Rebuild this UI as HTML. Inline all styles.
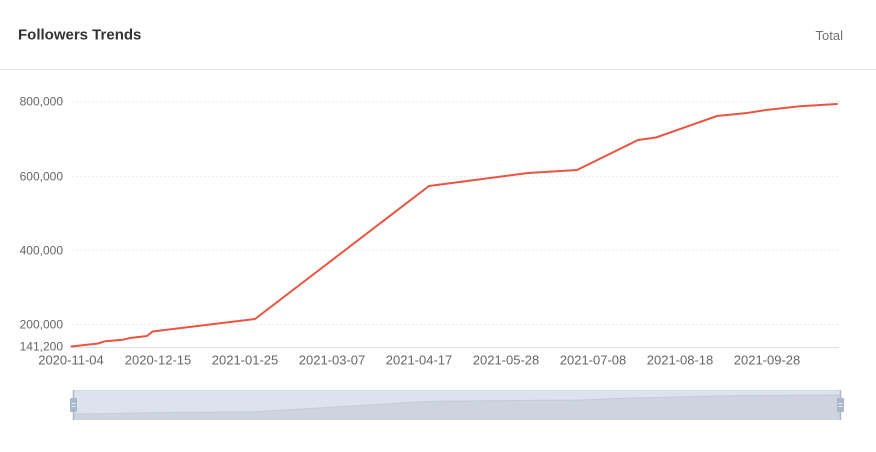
<!DOCTYPE html>
<html>
<head>
<meta charset="utf-8">
<style>
  html,body{margin:0;padding:0;background:#fff;}
  body{width:876px;height:452px;overflow:hidden;position:relative;font-family:"Liberation Sans",Arial,sans-serif;}
  svg{position:absolute;left:0;top:0;}
</style>
</head>
<body>
<svg width="876" height="452" viewBox="0 0 876 452" xmlns="http://www.w3.org/2000/svg">
  <!-- header -->
  <text x="18" y="39.5" font-family="Liberation Sans, Arial, sans-serif" font-size="15" font-weight="bold" fill="#333">Followers Trends</text>
  <text x="843" y="40" text-anchor="end" font-family="Liberation Sans, Arial, sans-serif" font-size="13" fill="#707070">Total</text>
  <line x1="0" y1="69.5" x2="876" y2="69.5" stroke="#e6e6e6" stroke-width="1"/>

  <!-- grid -->
  <g stroke="#ececec" stroke-width="1" stroke-dasharray="2,2">
    <line x1="72" y1="101.5" x2="838" y2="101.5"/>
    <line x1="72" y1="176.5" x2="838" y2="176.5"/>
    <line x1="72" y1="250.5" x2="838" y2="250.5"/>
    <line x1="72" y1="324.5" x2="838" y2="324.5"/>
  </g>
  <line x1="71" y1="347.5" x2="839" y2="347.5" stroke="#e0e0e0" stroke-width="1"/>

  <!-- y labels -->
  <g font-family="Liberation Sans, Arial, sans-serif" font-size="12" fill="#666" text-anchor="end">
    <text x="63" y="105.5">800,000</text>
    <text x="63" y="180.5">600,000</text>
    <text x="63" y="254.5">400,000</text>
    <text x="63" y="328.5">200,000</text>
    <text x="63" y="350.5">141,200</text>
  </g>

  <!-- x labels -->
  <g font-family="Liberation Sans, Arial, sans-serif" font-size="13" fill="#666" text-anchor="middle">
    <text x="71" y="364.5">2020-11-04</text>
    <text x="158" y="364.5">2020-12-15</text>
    <text x="245" y="364.5">2021-01-25</text>
    <text x="332" y="364.5">2021-03-07</text>
    <text x="419" y="364.5">2021-04-17</text>
    <text x="506" y="364.5">2021-05-28</text>
    <text x="593" y="364.5">2021-07-08</text>
    <text x="680" y="364.5">2021-08-18</text>
    <text x="767" y="364.5">2021-09-28</text>
  </g>

  <!-- series -->
  <polyline fill="none" stroke="#ea5440" stroke-width="2" stroke-linejoin="round" stroke-linecap="round"
    points="71.5,346.5 98,343.5 105,341.3 123,339.7 130,338 147,336 152.5,331.5 255,319 429,186 528,173 577,170 638,140 656,137.5 717,116 747,113 766,110 800,106.3 837,104"/>

  <!-- data zoom slider -->
  <rect x="73" y="390" width="767" height="30" fill="#dde3ec"/>
  <polygon fill="#cdd4de" points="73,414 98,413.8 152.5,412.8 255,411.8 429,401.4 528,400.4 577,400.1 638,397.8 656,397.6 717,395.9 766,395.5 840,395 840,420 73,420"/>
  <polyline fill="none" stroke="#c3cad5" stroke-width="1" points="73,414 98,413.8 152.5,412.8 255,411.8 429,401.4 528,400.4 577,400.1 638,397.8 656,397.6 717,395.9 766,395.5 840,395"/>
  <line x1="73" y1="390.5" x2="840" y2="390.5" stroke="#d3dae4" stroke-width="1"/>
  <line x1="73.5" y1="390" x2="73.5" y2="420" stroke="#a9b6c8" stroke-width="1.5"/>
  <line x1="840.5" y1="390" x2="840.5" y2="420" stroke="#a9b6c8" stroke-width="1.5"/>
  <rect x="70" y="398" width="7" height="14" fill="#a9b7ca" rx="1"/>
  <line x1="71.5" y1="403.5" x2="75.5" y2="403.5" stroke="#e8edf3" stroke-width="1"/>
  <line x1="71.5" y1="406.5" x2="75.5" y2="406.5" stroke="#e8edf3" stroke-width="1"/>
  <rect x="837" y="398" width="7" height="14" fill="#a9b7ca" rx="1"/>
  <line x1="838.5" y1="403.5" x2="842.5" y2="403.5" stroke="#e8edf3" stroke-width="1"/>
  <line x1="838.5" y1="406.5" x2="842.5" y2="406.5" stroke="#e8edf3" stroke-width="1"/>
</svg>
</body>
</html>
